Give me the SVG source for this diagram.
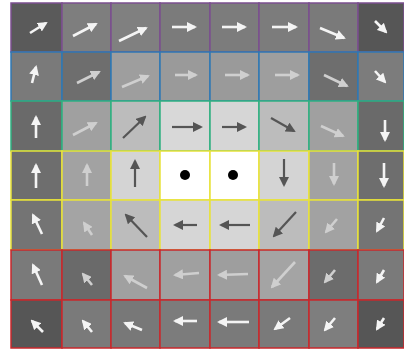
<svg xmlns="http://www.w3.org/2000/svg" width="404" height="349" viewBox="0 0 404 349">
<style>
.cp{stroke:#7b4f8f;stroke-width:1.5}
.cb{stroke:#2f78b4;stroke-width:1.5}
.cg{stroke:#2fb080;stroke-width:1.5}
.cy{stroke:#e8e23a;stroke-width:1.5}
.cr{stroke:#c8282c;stroke-width:1.5}
.aw{stroke:#f4f4f4;stroke-width:2.6;fill:none;marker-end:url(#hw)}
.al{stroke:#cfcfcf;stroke-width:2.6;fill:none;marker-end:url(#hl)}
.ad{stroke:#555555;stroke-width:2.2;fill:none;marker-end:url(#hd)}
</style>
<defs>
<marker id="hw" viewBox="0 0 10 10" refX="8" refY="5" markerWidth="10" markerHeight="10" markerUnits="userSpaceOnUse" orient="auto"><path d="M0,0 L10,5 L0,10 z" fill="#f4f4f4"/></marker>
<marker id="hl" viewBox="0 0 10 10" refX="8" refY="5" markerWidth="10" markerHeight="10" markerUnits="userSpaceOnUse" orient="auto"><path d="M0,0 L10,5 L0,10 z" fill="#cfcfcf"/></marker>
<marker id="hd" viewBox="0 0 10 10" refX="8" refY="5" markerWidth="10" markerHeight="10" markerUnits="userSpaceOnUse" orient="auto"><path d="M0,0 L10,5 L0,10 z" fill="#555555"/></marker>
</defs>
<rect width="404" height="349" fill="#ffffff"/>
<g id="cells">
<g id="r0c0"><rect class="cp" x="11" y="3" width="51" height="49" fill="#5a5a5a"/></g>
<g id="r0c1"><rect class="cp" x="62" y="3" width="49" height="49" fill="#7e7e7e"/></g>
<g id="r0c2"><rect class="cp" x="111" y="3" width="49" height="49" fill="#808080"/></g>
<g id="r0c3"><rect class="cp" x="160" y="3" width="50" height="49" fill="#7b7b7b"/></g>
<g id="r0c4"><rect class="cp" x="210" y="3" width="49" height="49" fill="#7c7c7c"/></g>
<g id="r0c5"><rect class="cp" x="259" y="3" width="50" height="49" fill="#7c7c7c"/></g>
<g id="r0c6"><rect class="cp" x="309" y="3" width="49" height="49" fill="#7a7a7a"/></g>
<g id="r0c7"><rect class="cp" x="358" y="3" width="46" height="49" fill="#565656"/></g>
<g id="r1c0"><rect class="cb" x="11" y="52" width="51" height="49" fill="#7a7a7a"/></g>
<g id="r1c1"><rect class="cb" x="62" y="52" width="49" height="49" fill="#6e6e6e"/></g>
<g id="r1c2"><rect class="cb" x="111" y="52" width="49" height="49" fill="#9e9e9e"/></g>
<g id="r1c3"><rect class="cb" x="160" y="52" width="50" height="49" fill="#9a9a9a"/></g>
<g id="r1c4"><rect class="cb" x="210" y="52" width="49" height="49" fill="#9a9a9a"/></g>
<g id="r1c5"><rect class="cb" x="259" y="52" width="50" height="49" fill="#9e9e9e"/></g>
<g id="r1c6"><rect class="cb" x="309" y="52" width="49" height="49" fill="#6e6e6e"/></g>
<g id="r1c7"><rect class="cb" x="358" y="52" width="46" height="49" fill="#7c7c7c"/></g>
<g id="r2c0"><rect class="cg" x="11" y="101" width="51" height="50" fill="#6a6a6a"/></g>
<g id="r2c1"><rect class="cg" x="62" y="101" width="49" height="50" fill="#a0a0a0"/></g>
<g id="r2c2"><rect class="cg" x="111" y="101" width="49" height="50" fill="#bcbcbc"/></g>
<g id="r2c3"><rect class="cg" x="160" y="101" width="50" height="50" fill="#d8d8d8"/></g>
<g id="r2c4"><rect class="cg" x="210" y="101" width="49" height="50" fill="#d6d6d6"/></g>
<g id="r2c5"><rect class="cg" x="259" y="101" width="50" height="50" fill="#bcbcbc"/></g>
<g id="r2c6"><rect class="cg" x="309" y="101" width="49" height="50" fill="#a0a0a0"/></g>
<g id="r2c7"><rect class="cg" x="358" y="101" width="46" height="50" fill="#6a6a6a"/></g>
<g id="r3c0"><rect class="cy" x="11" y="151" width="51" height="49" fill="#6e6e6e"/></g>
<g id="r3c1"><rect class="cy" x="62" y="151" width="49" height="49" fill="#a2a2a2"/></g>
<g id="r3c2"><rect class="cy" x="111" y="151" width="49" height="49" fill="#d4d4d4"/></g>
<g id="r3c3"><rect class="cy" x="160" y="151" width="50" height="49" fill="#ffffff"/><circle cx="185" cy="175" r="5" fill="#000"/></g>
<g id="r3c4"><rect class="cy" x="210" y="151" width="49" height="49" fill="#ffffff"/><circle cx="233" cy="175" r="5" fill="#000"/></g>
<g id="r3c5"><rect class="cy" x="259" y="151" width="50" height="49" fill="#d4d4d4"/></g>
<g id="r3c6"><rect class="cy" x="309" y="151" width="49" height="49" fill="#a2a2a2"/></g>
<g id="r3c7"><rect class="cy" x="358" y="151" width="46" height="49" fill="#6e6e6e"/></g>
<g id="r4c0"><rect class="cy" x="11" y="200" width="51" height="50" fill="#747474"/></g>
<g id="r4c1"><rect class="cy" x="62" y="200" width="49" height="50" fill="#a4a4a4"/></g>
<g id="r4c2"><rect class="cy" x="111" y="200" width="49" height="50" fill="#bcbcbc"/></g>
<g id="r4c3"><rect class="cy" x="160" y="200" width="50" height="50" fill="#d6d6d6"/></g>
<g id="r4c4"><rect class="cy" x="210" y="200" width="49" height="50" fill="#d6d6d6"/></g>
<g id="r4c5"><rect class="cy" x="259" y="200" width="50" height="50" fill="#bcbcbc"/></g>
<g id="r4c6"><rect class="cy" x="309" y="200" width="49" height="50" fill="#a2a2a2"/></g>
<g id="r4c7"><rect class="cy" x="358" y="200" width="46" height="50" fill="#747474"/></g>
<g id="r5c0"><rect class="cr" x="11" y="250" width="51" height="50" fill="#7a7a7a"/></g>
<g id="r5c1"><rect class="cr" x="62" y="250" width="49" height="50" fill="#6a6a6a"/></g>
<g id="r5c2"><rect class="cr" x="111" y="250" width="49" height="50" fill="#a0a0a0"/></g>
<g id="r5c3"><rect class="cr" x="160" y="250" width="50" height="50" fill="#a0a0a0"/></g>
<g id="r5c4"><rect class="cr" x="210" y="250" width="49" height="50" fill="#9e9e9e"/></g>
<g id="r5c5"><rect class="cr" x="259" y="250" width="50" height="50" fill="#a4a4a4"/></g>
<g id="r5c6"><rect class="cr" x="309" y="250" width="49" height="50" fill="#6c6c6c"/></g>
<g id="r5c7"><rect class="cr" x="358" y="250" width="46" height="50" fill="#7a7a7a"/></g>
<g id="r6c0"><rect class="cr" x="11" y="300" width="51" height="48" fill="#565656"/></g>
<g id="r6c1"><rect class="cr" x="62" y="300" width="49" height="48" fill="#7a7a7a"/></g>
<g id="r6c2"><rect class="cr" x="111" y="300" width="49" height="48" fill="#787878"/></g>
<g id="r6c3"><rect class="cr" x="160" y="300" width="50" height="48" fill="#7c7c7c"/></g>
<g id="r6c4"><rect class="cr" x="210" y="300" width="49" height="48" fill="#7a7a7a"/></g>
<g id="r6c5"><rect class="cr" x="259" y="300" width="50" height="48" fill="#7a7a7a"/></g>
<g id="r6c6"><rect class="cr" x="309" y="300" width="49" height="48" fill="#7e7e7e"/></g>
<g id="r6c7"><rect class="cr" x="358" y="300" width="46" height="48" fill="#565656"/></g>
</g>
<g id="connectors">
<line class="aw" x1="30" y1="33" x2="46" y2="23"/>
<line class="aw" x1="73" y1="36" x2="96" y2="24"/>
<line class="aw" x1="119" y1="41" x2="146" y2="28"/>
<line class="aw" x1="172" y1="27" x2="195" y2="27"/>
<line class="aw" x1="222" y1="27" x2="245" y2="27"/>
<line class="aw" x1="272" y1="27" x2="296" y2="27"/>
<line class="aw" x1="320" y1="28" x2="344" y2="38"/>
<line class="aw" x1="375" y1="21" x2="386" y2="32"/>
<line class="aw" x1="32" y1="83" x2="36" y2="67"/>
<line class="al" x1="77" y1="83" x2="99" y2="72"/>
<line class="al" x1="122" y1="87" x2="148" y2="76"/>
<line class="al" x1="175" y1="75" x2="196" y2="75"/>
<line class="al" x1="225" y1="75" x2="248" y2="75"/>
<line class="al" x1="275" y1="75" x2="298" y2="75"/>
<line class="al" x1="324" y1="75" x2="347" y2="86"/>
<line class="aw" x1="375" y1="71" x2="385" y2="82"/>
<line class="aw" x1="36" y1="138" x2="36" y2="117"/>
<line class="al" x1="73" y1="135" x2="96" y2="123"/>
<line class="ad" x1="123" y1="138" x2="145" y2="117"/>
<line class="ad" x1="172" y1="127" x2="201" y2="127"/>
<line class="ad" x1="222" y1="127" x2="245" y2="127"/>
<line class="ad" x1="271" y1="118" x2="294" y2="131"/>
<line class="al" x1="321" y1="126" x2="343" y2="136"/>
<line class="aw" x1="385" y1="120" x2="385" y2="140"/>
<line class="aw" x1="36" y1="188" x2="36" y2="165"/>
<line class="al" x1="87" y1="186" x2="87" y2="165"/>
<line class="ad" x1="135" y1="187" x2="135" y2="161"/>
<line class="ad" x1="284" y1="159" x2="284" y2="185"/>
<line class="al" x1="334" y1="163" x2="334" y2="184"/>
<line class="aw" x1="384" y1="163" x2="384" y2="186"/>
<line class="aw" x1="42" y1="234" x2="33" y2="215"/>
<line class="al" x1="92" y1="235" x2="84" y2="223"/>
<line class="ad" x1="147" y1="237" x2="126" y2="215"/>
<line class="ad" x1="197" y1="225" x2="175" y2="225"/>
<line class="ad" x1="250" y1="225" x2="221" y2="225"/>
<line class="ad" x1="296" y1="212" x2="274" y2="236"/>
<line class="al" x1="337" y1="219" x2="326" y2="232"/>
<line class="aw" x1="384" y1="218" x2="377" y2="231"/>
<line class="aw" x1="42" y1="285" x2="33" y2="265"/>
<line class="al" x1="92" y1="285" x2="83" y2="274"/>
<line class="al" x1="147" y1="288" x2="125" y2="276"/>
<line class="al" x1="199" y1="273" x2="175" y2="275"/>
<line class="al" x1="248" y1="274" x2="219" y2="275"/>
<line class="al" x1="295" y1="262" x2="272" y2="287"/>
<line class="al" x1="335" y1="270" x2="325" y2="282"/>
<line class="aw" x1="384" y1="270" x2="377" y2="282"/>
<line class="aw" x1="43" y1="332" x2="32" y2="321"/>
<line class="aw" x1="92" y1="332" x2="83" y2="321"/>
<line class="aw" x1="142" y1="330" x2="125" y2="323"/>
<line class="aw" x1="197" y1="321" x2="175" y2="321"/>
<line class="aw" x1="249" y1="322" x2="219" y2="322"/>
<line class="aw" x1="290" y1="318" x2="275" y2="329"/>
<line class="aw" x1="335" y1="318" x2="325" y2="330"/>
<line class="aw" x1="384" y1="318" x2="377" y2="329"/>
</g>
</svg>
